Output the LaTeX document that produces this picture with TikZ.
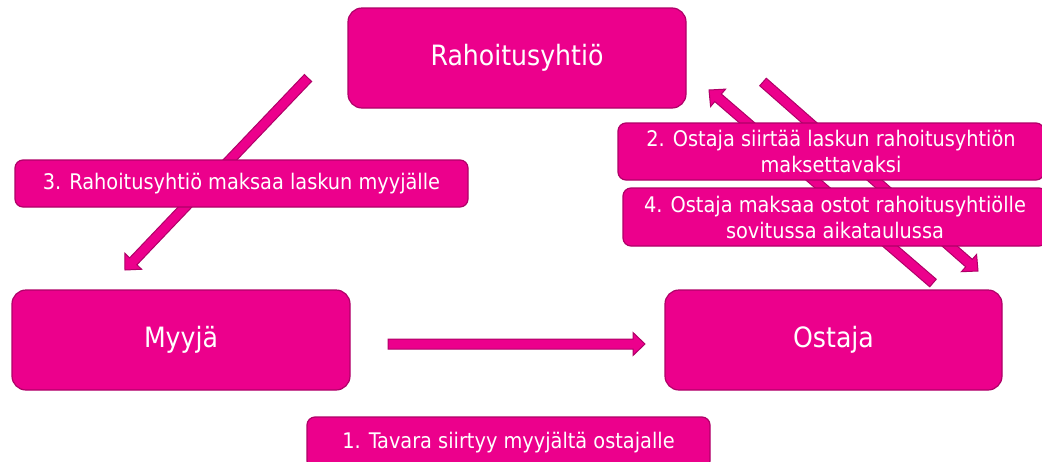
\documentclass[tikz,border=0pt]{standalone}
\usepackage{fontspec}
\setmainfont{DejaVu Sans Condensed}
\usetikzlibrary{calc}
\definecolor{mag}{RGB}{236,0,140}
\definecolor{magdark}{RGB}{176,0,104}
\tikzset{
  big/.style={draw=magdark, line width=1.2pt, fill=mag, rounded corners=14pt,
    minimum width=338pt, minimum height=100pt, text=white,
    font=\fontsize{28}{32}\selectfont, inner sep=0pt},
  lab/.style={draw=magdark, line width=1.2pt, fill=mag, rounded corners=8pt,
    text=white, font=\fontsize{21.5}{26}\selectfont, align=center, inner sep=0pt},
  barrowstyle/.style={draw=magdark, line width=1pt, fill=mag, line join=miter}
}
\newcommand{\blockarrow}[2]{%
  \coordinate (#1-base) at ($(#2)!12pt!(#1)$);
  \draw[barrowstyle]
    ($(#1)!5pt!90:(#2)$) --
    ($(#1-base)!5pt!-90:(#1)$) --
    ($(#1-base)!11.5pt!-90:(#1)$) --
    (#2) --
    ($(#1-base)!11.5pt!90:(#1)$) --
    ($(#1-base)!5pt!90:(#1)$) --
    ($(#1)!5pt!-90:(#2)$) -- cycle;
}
\begin{document}
\begin{tikzpicture}[x=1pt, y=-1pt]
  \useasboundingbox (0,0) rectangle (1042,461);
  \fill[white] (0,0) rectangle (1042,461);

  % main boxes
  \node[big] (rah) at (517,58) {Rahoitusyhtiö};
  \node[big] (myy) at (181,340) {Myyjä};
  \node[big, minimum width=337pt] (ost) at (833.5,340) {Ostaja};

  % arrow end points
  \coordinate (a1s) at (388,344);
  \coordinate (a1e) at (645,344);
  \coordinate (a3s) at (308,78);
  \coordinate (a3e) at (125,270);
  \coordinate (a2s) at (933,283);
  \coordinate (a2e) at (709,90);
  \coordinate (a4s) at (763,82);
  \coordinate (a4e) at (978,271);

  \blockarrow{a1s}{a1e}
  \blockarrow{a3s}{a3e}
  \blockarrow{a2s}{a2e}
  \blockarrow{a4s}{a4e}

  % labels
  \node[lab, minimum width=453pt, minimum height=47pt] (l3) at (241.5,183.5)
    {3. Rahoitusyhtiö maksaa laskun myyjälle};
  \node[lab, minimum width=426pt, minimum height=57pt] (l2) at (831,151.5)
    {2. Ostaja siirtää laskun rahoitusyhtiön\\maksettavaksi};
  \node[lab, minimum width=424pt, minimum height=58pt] (l4) at (835,217)
    {4. Ostaja maksaa ostot rahoitusyhtiölle\\sovitussa aikataulussa};
  \node[lab, minimum width=403pt, minimum height=52pt] (l1) at (508.5,443)
    {1. Tavara siirtyy myyjältä ostajalle};
\end{tikzpicture}
\end{document}
